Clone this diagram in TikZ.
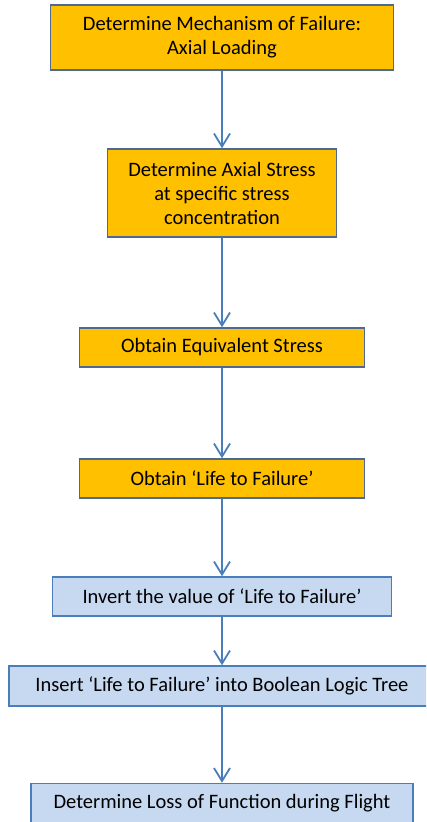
\documentclass[tikz,border=0pt]{standalone}
\usepackage{fontspec}
\setmainfont{Carlito}
\usetikzlibrary{arrows.meta}

\definecolor{boxorange}{HTML}{FFC000}
\definecolor{boxblue}{HTML}{C6D9F1}
\definecolor{lineblue}{HTML}{4A7EBB}
\definecolor{edgegray}{HTML}{4F6A8F}

\begin{document}
\begin{tikzpicture}[x=1pt, y={(0pt,-1pt)},
    orangebox/.style={rectangle, draw=edgegray, line width=1.5pt, fill=boxorange,
      align=center, inner sep=0pt, font=\fontsize{20.5}{24}\selectfont},
    bluebox/.style={rectangle, draw=lineblue, line width=1.5pt, fill=boxblue,
      align=center, inner sep=0pt, font=\fontsize{20.5}{24}\selectfont},
    flow/.style={draw=lineblue, line width=1.8pt, -{Straight Barb[length=13pt, width=16pt]}}]
    \useasboundingbox (0,0) rectangle (426,822);
    \clip (0,0) rectangle (426,822);

    % オレンジの箱
    \node[orangebox, minimum width=343pt, minimum height=65pt] (mech) at (222, 37.5) {Determine Mechanism of Failure:\\Axial Loading};
    \node[orangebox, minimum width=229pt, minimum height=88pt] (axial) at (222, 193) {Determine Axial Stress\\at specific stress\\concentration};
    \node[orangebox, minimum width=285pt, minimum height=39pt] (equiv) at (222, 347.5) {Obtain Equivalent Stress};
    \node[orangebox, minimum width=285pt, minimum height=39pt] (life) at (222, 478.5) {Obtain ‘Life to Failure’};

    % 青い箱
    \node[bluebox, minimum width=339pt, minimum height=39pt] (invert) at (222, 596.5) {Invert the value of ‘Life to Failure’};
    \node[bluebox, minimum width=426pt, minimum height=40pt] (insert) at (222, 686) {Insert ‘Life to Failure’ into Boolean Logic Tree};
    \node[bluebox, minimum width=382pt, minimum height=40pt] (loss) at (222, 803.5) {Determine Loss of Function during Flight};

    % 矢印
    \draw[flow] (mech) -- (axial);
    \draw[flow] (axial) -- (equiv);
    \draw[flow] (equiv) -- (life);
    \draw[flow] (life) -- (invert);
    \draw[flow] (invert) -- (insert);
    \draw[flow] (insert) -- (loss);
\end{tikzpicture}
\end{document}
